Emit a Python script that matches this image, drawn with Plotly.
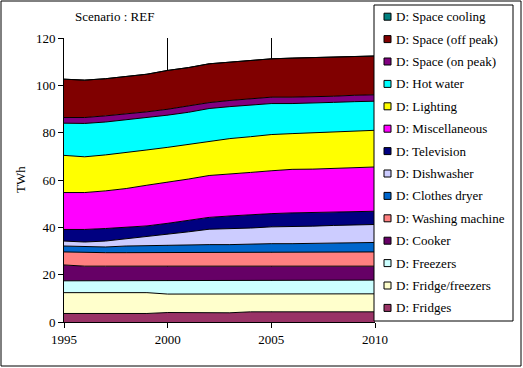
import plotly.graph_objects as go

years = list(range(1995, 2011))

fridges = [3.6, 3.6, 3.6, 3.6, 3.6, 4.0, 4.0, 4.0, 3.9, 4.3, 4.3, 4.3, 4.3, 4.3, 4.3, 4.3]
fridge_freezers = [8.8, 8.8, 8.8, 8.8, 8.8, 7.8, 7.8, 7.8, 8.0, 7.6, 7.6, 7.6, 7.6, 7.6, 7.6, 7.6]
freezers = [5.0, 5.0, 5.0, 5.0, 5.0, 5.6, 5.6, 5.9, 5.8, 5.8, 5.8, 5.8, 5.8, 5.8, 5.8, 5.8]
cooker = [6.7, 6.2, 6.2, 6.2, 6.2, 6.2, 6.2, 5.9, 5.9, 5.9, 5.9, 5.9, 5.9, 5.9, 5.9, 5.9]
washing_machine = [5.5, 5.7, 5.7, 5.7, 5.7, 5.7, 5.7, 5.7, 6.0, 6.0, 6.0, 6.0, 6.0, 6.0, 6.0, 6.0]
clothes_dryer = [2.5, 2.7, 2.4, 2.8, 3.0, 3.0, 3.1, 3.4, 3.1, 3.4, 3.5, 3.5, 3.7, 3.7, 3.8, 4.0]
dishwasher = [2.1, 1.8, 2.5, 3.0, 3.8, 4.8, 5.7, 6.5, 6.6, 6.7, 7.1, 7.1, 7.2, 7.5, 7.5, 7.6]
television = [4.9, 5.3, 5.3, 4.8, 4.5, 4.6, 4.8, 5.0, 5.5, 5.7, 5.6, 5.9, 5.7, 5.6, 5.6, 5.6]
miscellaneous = [15.6, 15.6, 15.9, 16.5, 17.2, 17.3, 17.5, 17.7, 17.6, 17.8, 18.1, 18.4, 18.4, 18.5, 18.5, 18.7]
lighting = [15.7, 15.1, 15.2, 15.1, 14.9, 14.8, 14.7, 14.6, 15.1, 15.1, 15.3, 15.1, 15.3, 15.4, 15.6, 15.5]
hot_water = [13.6, 14.1, 13.9, 13.9, 13.5, 13.6, 13.5, 13.7, 13.5, 13.4, 13.1, 12.7, 12.8, 12.5, 12.5, 12.3]
space_on_peak = [2.4, 2.5, 2.6, 2.4, 2.6, 2.5, 2.7, 2.5, 2.6, 2.6, 2.7, 2.7, 2.4, 2.6, 2.7, 2.7]
space_off_peak = [16.2, 15.8, 15.7, 15.8, 15.9, 16.4, 16.2, 16.4, 16.2, 16.4, 16.2, 16.5, 16.6, 16.5, 16.3, 16.4]
space_cooling = [0.0] * 16

# bottom to top (stack order)
series = [
    ("D: Fridges", fridges, "#993366"),
    ("D: Fridge/freezers", fridge_freezers, "#FFFFCC"),
    ("D: Freezers", freezers, "#CCFFFF"),
    ("D: Cooker", cooker, "#660066"),
    ("D: Washing machine", washing_machine, "#FF8080"),
    ("D: Clothes dryer", clothes_dryer, "#0066CC"),
    ("D: Dishwasher", dishwasher, "#CCCCFF"),
    ("D: Television", television, "#000080"),
    ("D: Miscellaneous", miscellaneous, "#FF00FF"),
    ("D: Lighting", lighting, "#FFFF00"),
    ("D: Hot water", hot_water, "#00FFFF"),
    ("D: Space (on peak)", space_on_peak, "#800080"),
    ("D: Space (off peak)", space_off_peak, "#800000"),
    ("D: Space cooling", space_cooling, "#008080"),
]

W, H = 523, 368
ML, MR, MT, MB = 64, 148, 38, 46
PW, PH = W - ML - MR, H - MT - MB
FONT = "Liberation Serif, Times New Roman, serif"


def px(x):
    return (x - ML) / PW


def py(y):
    return (H - MB - y) / PH


fig = go.Figure()
for name, vals, col in series:
    fig.add_trace(go.Scatter(
        x=years, y=vals, name=name, mode="lines", stackgroup="one",
        line=dict(color="black", width=1), fillcolor=col,
        showlegend=False, hoverinfo="skip",
    ))

shapes = []
annotations = []

# outer chart border
shapes.append(dict(type="rect", xref="paper", yref="paper",
                   x0=px(1), x1=px(521), y0=py(366), y1=py(1),
                   line=dict(color="black", width=1), layer="above"))

# legend box
LX0, LX1, LY0, LY1 = 374, 513, 5, 321
shapes.append(dict(type="rect", xref="paper", yref="paper",
                   x0=px(LX0), x1=px(LX1), y0=py(LY1), y1=py(LY0),
                   line=dict(color="black", width=1), fillcolor="white",
                   layer="above"))

legend_items = list(reversed(series))
for i, (name, vals, col) in enumerate(legend_items):
    cy = 16.7 + 22.4 * i
    shapes.append(dict(type="rect", xref="paper", yref="paper",
                       x0=px(384), x1=px(391), y0=py(cy + 3.5), y1=py(cy - 3.5),
                       line=dict(color="black", width=1), fillcolor=col,
                       layer="above"))
    annotations.append(dict(xref="paper", yref="paper", x=px(394), y=py(cy),
                            xanchor="left", yanchor="middle", showarrow=False,
                            text=name, font=dict(family=FONT, size=13, color="black")))

annotations.append(dict(xref="paper", yref="paper", x=px(73), y=py(16),
                        xanchor="left", yanchor="middle", showarrow=False,
                        text="Scenario : REF",
                        font=dict(family=FONT, size=13, color="black")))
annotations.append(dict(xref="paper", yref="paper", x=px(20), y=py(180),
                        xanchor="center", yanchor="middle", showarrow=False,
                        text="TWh", textangle=-90,
                        font=dict(family=FONT, size=13, color="black")))

fig.update_layout(
    width=W, height=H,
    margin=dict(l=ML, r=MR, t=MT, b=MB, pad=0),
    paper_bgcolor="white", plot_bgcolor="white",
    font=dict(family=FONT, size=13, color="black"),
    showlegend=False,
    shapes=shapes, annotations=annotations,
    xaxis=dict(range=[1995, 2010], tickvals=[1995, 2000, 2005, 2010],
               ticks="outside", ticklen=5, tickcolor="black",
               showline=True, linecolor="black", linewidth=1,
               showgrid=True, gridcolor="black", gridwidth=1,
               zeroline=False, fixedrange=True),
    yaxis=dict(range=[0, 120], dtick=20, tick0=0,
               ticks="outside", ticklen=5, tickcolor="black",
               showline=True, linecolor="black", linewidth=1,
               showgrid=True, gridcolor="#808080", gridwidth=1,
               zeroline=False, fixedrange=True),
)

fig.write_html("out.html", config={"displayModeBar": False},
               post_script="document.body.style.margin='0px';document.body.style.overflow='hidden';")
